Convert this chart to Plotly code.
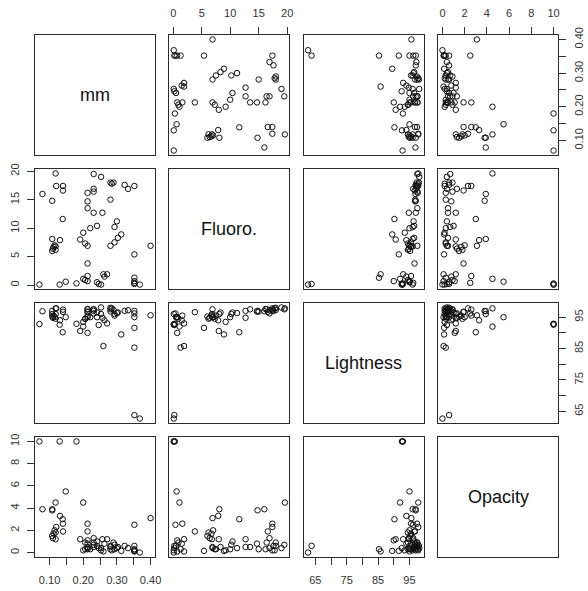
import plotly.graph_objects as go

var_names = ["mm", "Fluoro.", "Lightness", "Opacity"]

mm = [0.070, 0.130, 0.180, 0.079, 0.148, 0.118, 0.108, 0.108, 0.131, 0.139,
      0.140, 0.140, 0.120, 0.108, 0.110, 0.112, 0.115, 0.118, 0.118,
      0.213, 0.206, 0.213, 0.213, 0.213, 0.206, 0.191, 0.200, 0.213, 0.213,
      0.213, 0.200,
      0.260, 0.253, 0.246, 0.241, 0.263, 0.271, 0.241, 0.221, 0.231, 0.231,
      0.231, 0.253, 0.231, 0.257, 0.281, 0.285, 0.281, 0.290, 0.293, 0.281,
      0.293, 0.300, 0.313, 0.303,
      0.400, 0.368, 0.352, 0.352, 0.352, 0.352, 0.352, 0.352, 0.333, 0.323]

fluoro = [0.1, 0.1, 0.3, 16.0, 0.6, 19.6, 14.8, 8.1, 7.9, 11.6,
          16.6, 17.4, 17.4, 6.0, 6.4, 6.7, 7.0, 6.2, 6.8,
          0.7, 0.9, 1.6, 3.8, 6.9, 7.3, 8.0, 9.2, 13.5, 14.7,
          16.2, 1.1,
          1.9, 0.1, 0.2, 0.5, 1.5, 1.9, 10.4, 10.0, 12.7, 16.4,
          16.9, 19.0, 19.5, 12.7, 15.0, 17.8, 18.0, 18.0, 7.5, 6.9,
          10.2, 11.2, 8.9, 8.3,
          6.9, 0.1, 0.2, 1.3, 0.7, 5.4, 17.4, 0.4, 16.9, 17.6]

lightness = [92.8, 92.6, 92.9, 96.9, 95.0, 97.8, 97.0, 96.0, 94.0, 90.2,
             96.7, 97.4, 97.8, 95.2, 94.8, 95.5, 95.0, 94.5, 96.0,
             90.0, 94.5, 95.5, 96.6, 95.0, 94.5, 90.6, 93.5, 97.5, 96.8,
             97.6, 92.0,
             85.8, 96.0, 92.5, 95.0, 94.0, 93.0, 96.5, 95.0, 97.0, 97.5,
             96.2, 98.1, 97.5, 94.8, 96.8, 97.8, 98.0, 97.3, 95.5, 97.5,
             96.0, 96.3, 89.5, 96.5,
             95.6, 62.7, 63.8, 85.3, 95.0, 91.6, 97.0, 96.2, 97.2, 97.0]

opacity = [10.0, 10.0, 10.0, 3.9, 5.5, 4.5, 3.8, 3.9, 3.3, 3.0,
           1.9, 2.6, 2.3, 1.5, 1.3, 1.7, 2.0, 1.8, 1.2,
           1.1, 0.9, 2.6, 1.9, 0.4, 0.3, 1.2, 0.2, 0.5, 0.8,
           0.3, 4.5,
           0.1, 0.2, 0.4, 0.6, 0.8, 1.2, 1.0, 0.3, 0.5, 0.9,
           1.3, 0.4, 0.7, 1.2, 0.3, 0.2, 0.6, 0.9, 0.3, 0.5,
           0.7, 0.4, 0.15, 0.5,
           3.1, 0.0, 0.6, 0.3, 0.1, 0.15, 0.2, 2.5, 0.4, 0.6]

tick_vals = [
    [0.10, 0.15, 0.20, 0.25, 0.30, 0.35, 0.40],
    [0, 5, 10, 15, 20],
    [65, 70, 75, 80, 85, 90, 95],
    [0, 2, 4, 6, 8, 10],
]
tick_text = [
    ["0.10", "", "0.20", "", "0.30", "", "0.40"],
    ["0", "5", "10", "15", "20"],
    ["65", "", "75", "", "85", "", "95"],
    ["0", "2", "4", "6", "8", "10"],
]

data = [mm, fluoro, lightness, opacity]

# ---- layout geometry ----
W, H = 588, 591
ML, MR, MT, MB = 35, 30, 35, 34
PW = W - ML - MR
PH = H - MT - MB
panel = 120
gx = (PW - 4 * panel) / 3.0
gy = (PH - 4 * panel) / 3.0


def rng(v):
    lo, hi = min(v), max(v)
    pad = 0.04 * (hi - lo)
    return [lo - pad, hi + pad]


def clamp(a):
    return [max(0.0, min(1.0, a[0])), max(0.0, min(1.0, a[1]))]


ranges = [rng(v) for v in data]
xdom = [clamp([(j * (panel + gx)) / PW, (j * (panel + gx) + panel) / PW]) for j in range(4)]
ydom = []
for i in range(4):
    top = PH - i * (panel + gy)
    ydom.append(clamp([(top - panel) / PH, top / PH]))

fig = go.Figure()
LINE = "#2b2b2b"
TICKC = "#333333"
FONT = "Liberation Sans, Arial, sans-serif"

annotations = []
for i in range(4):
    for j in range(4):
        n = i * 4 + j + 1
        xa = "x" if n == 1 else f"x{n}"
        ya = "y" if n == 1 else f"y{n}"
        if i != j:
            fig.add_trace(go.Scatter(
                x=data[j], y=data[i], mode="markers",
                xaxis=xa, yaxis=ya,
                marker=dict(symbol="circle-open", size=5.5,
                            color="#111111", line=dict(width=1, color="#111111")),
                showlegend=False, hoverinfo="skip"))
        else:
            annotations.append(dict(
                x=sum(ranges[j]) / 2, y=sum(ranges[i]) / 2,
                xref=xa, yref=ya, text=var_names[i], showarrow=False,
                font=dict(size=18, color="#111111", family=FONT)))

        xkey = "xaxis" if n == 1 else f"xaxis{n}"
        ykey = "yaxis" if n == 1 else f"yaxis{n}"
        xax = dict(domain=xdom[j], anchor=ya, range=ranges[j], automargin=False,
                   showline=True, mirror=True, linecolor=LINE, linewidth=1,
                   showgrid=False, zeroline=False, fixedrange=True)
        if i == 3 and j in (0, 2):
            xax.update(side="bottom", ticks="outside", ticklen=7, tickwidth=1,
                       tickcolor=TICKC, tickvals=tick_vals[j], ticktext=tick_text[j],
                       showticklabels=True, ticklabelstandoff=6,
                       tickfont=dict(size=11, color=TICKC, family=FONT))
        elif i == 0 and j in (1, 3):
            xax.update(side="top", ticks="outside", ticklen=7, tickwidth=1,
                       tickcolor=TICKC, tickvals=tick_vals[j], ticktext=tick_text[j],
                       showticklabels=True, ticklabelstandoff=6,
                       tickfont=dict(size=11, color=TICKC, family=FONT))
        else:
            xax.update(ticks="", showticklabels=False)
        yax = dict(domain=ydom[i], anchor=xa, range=ranges[i], automargin=False,
                   showline=True, mirror=True, linecolor=LINE, linewidth=1,
                   showgrid=False, zeroline=False, fixedrange=True)
        if j == 0 and i in (1, 3):
            yax.update(side="left", ticks="outside", ticklen=7, tickwidth=1,
                       tickcolor=TICKC, tickvals=tick_vals[i], ticktext=tick_text[i],
                       showticklabels=True, tickangle=-90, ticklabelstandoff=4,
                       tickfont=dict(size=11, color=TICKC, family=FONT))
        elif j == 3 and i in (0, 2):
            yax.update(side="right", ticks="outside", ticklen=7, tickwidth=1,
                       tickcolor=TICKC, tickvals=tick_vals[i], ticktext=tick_text[i],
                       showticklabels=True, tickangle=-90, ticklabelstandoff=4,
                       tickfont=dict(size=11, color=TICKC, family=FONT))
        else:
            yax.update(ticks="", showticklabels=False)
        fig.layout[xkey] = xax
        fig.layout[ykey] = yax

fig.update_layout(
    width=W, height=H,
    margin=dict(l=ML, r=MR, t=MT, b=MB, pad=0, autoexpand=False),
    paper_bgcolor="white", plot_bgcolor="white",
    annotations=annotations,
    font=dict(family=FONT),
    hovermode=False,
)

fig.write_html("out.html",
               config={"displayModeBar": False, "staticPlot": True},
               post_script="document.body.style.margin='0px';document.body.style.overflow='hidden';")
